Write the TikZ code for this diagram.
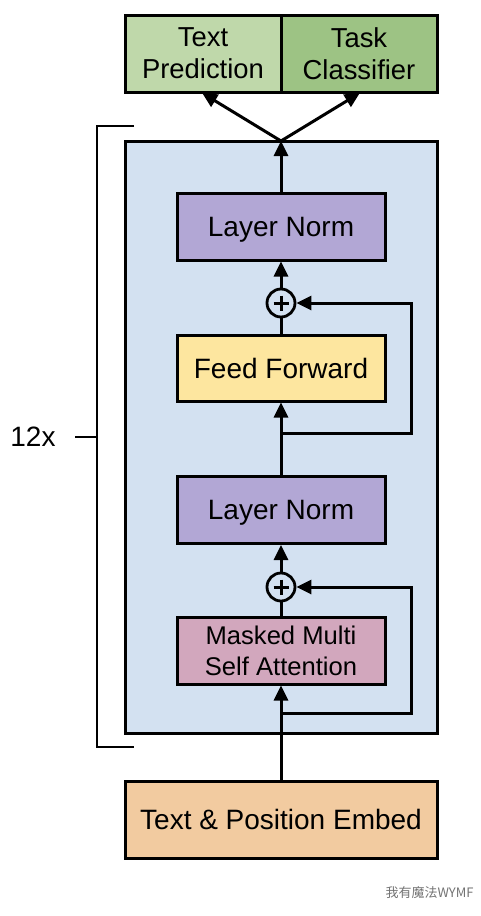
\documentclass[tikz,border=0pt]{standalone}
\usepackage{fontspec}
\setmainfont{Liberation Sans}
\newfontfamily\cjk{Noto Sans CJK SC}
\usetikzlibrary{calc,arrows.meta}

\definecolor{predgreen}{HTML}{BFD8AA}
\definecolor{taskgreen}{HTML}{9DC384}
\definecolor{blockblue}{HTML}{D3E1F1}
\definecolor{normpurple}{HTML}{B2A7D5}
\definecolor{ffyellow}{HTML}{FDE69F}
\definecolor{attnpink}{HTML}{D2A7BD}
\definecolor{embedorange}{HTML}{F2CBA0}

\begin{document}
\begin{tikzpicture}[x=1pt, y=-1pt,
    box/.style = {draw, line width=3pt, minimum width=208pt, minimum height=67pt, align=center, inner sep=0pt,
      text depth=0pt, font=\fontsize{28}{32}\selectfont},
    sum/.style = {draw, circle, line width=2.8pt, fill=blockblue, minimum size=28pt, inner sep=0pt,
      path picture={\draw [line width=3pt] ($(path picture bounding box.center)+(-7.5,0)$) -- ($(path picture bounding box.center)+(7.5,0)$)
        ($(path picture bounding box.center)+(0,-7.5)$) -- ($(path picture bounding box.center)+(0,7.5)$);}},
    a/.style = {line width=3pt, -{Triangle[length=15pt, width=14pt]}},
    l/.style = {line width=3pt}]
      \useasboundingbox (0,0) rectangle (480,916);

      \node [draw, line width=3pt, fill=blockblue, minimum width=312pt, minimum height=592pt] (block) at (281,437) {};

      \node [box, fill=predgreen, minimum width=156pt, minimum height=77pt, font=\fontsize{27.4}{32}\selectfont] (pred) at (203,53.5) {Text\\Prediction};
      \node [box, fill=taskgreen, minimum width=156pt, minimum height=77pt, font=\fontsize{27.4}{32}\selectfont] (task) at (359,53.5) {Task\\Classifier};

      \node [box, fill=normpurple] (norm1) at (281,226.5) {Layer Norm};
      \node [sum] (sum1) at (281,303) {};
      \node [box, fill=ffyellow, minimum height=66pt] (ff) at (281,368) {Feed Forward};
      \node [box, fill=normpurple] (norm2) at (281,510) {Layer Norm};
      \node [sum] (sum2) at (281,587) {};
      \node [box, fill=attnpink, font=\fontsize{25.6}{31}\selectfont] (attn) at (281,650.5) {Masked Multi\\Self Attention};
      \node [box, fill=embedorange, minimum width=312pt, minimum height=77pt] (embed) at (281,819.5) {Text \& Position Embed};

      \coordinate (top) at (281,141);
      \coordinate (r1) at (281,433);
      \coordinate (r2) at (281,713);

      \draw [a] (embed) -- (attn);
      \draw [l] (attn) -- (sum2);
      \draw [a] (sum2) -- (norm2);
      \draw [a] (norm2) -- (ff);
      \draw [l] (ff) -- (sum1);
      \draw [a] (sum1) -- (norm1);
      \draw [a] (norm1) -- (top);
      \draw [a] (r2) -- (411,713) |- (sum2);
      \draw [a] (r1) -- (411,433) |- (sum1);
      \draw [a, shorten >=-1pt] (top) -- (pred.south);
      \draw [a, shorten >=-1pt] (top) -- (task.south);

      % repeat bracket
      \node [font=\fontsize{28}{32}\selectfont] (rep) at (33,437) {12x};
      \draw [line width=1.3pt] (134,126) -- (97,126) -- (97,747) -- (134,747);
      \draw [line width=1.3pt] (75,437) -- (97,437);

      \node [text=black!55, font=\cjk\fontsize{13}{15}\selectfont, anchor=west] (mark) at (382,893) {我有魔法WYMF};
\end{tikzpicture}
\end{document}
